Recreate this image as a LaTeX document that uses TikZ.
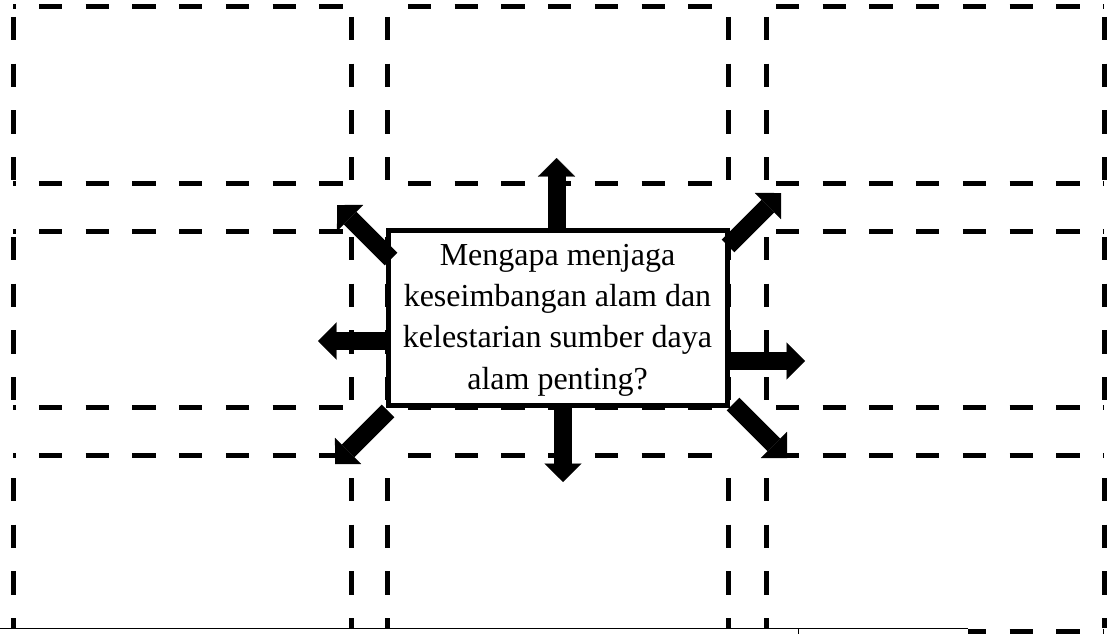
\documentclass[tikz,border=0pt]{standalone}
\usepackage{fontspec}
\setmainfont{Liberation Serif}
\usetikzlibrary{arrows.meta}
\tikzset{
  gridline/.style={line width=5pt, dash pattern=on 23.3pt off 23.4pt},
  qbox/.style={draw, line width=5pt, fill=white, minimum width=339pt, minimum height=175pt,
    inner sep=0pt},
  qtext/.style={inner sep=0pt, align=center, font=\fontsize{32}{41.3}\selectfont},
  blockarrow/.style={line width=18pt, -{Triangle[width=37pt,length=18.5pt,line width=0.1pt]}},
  thinedge/.style={line width=1pt}
}
\begin{document}
\begin{tikzpicture}[x=1pt,y=-1pt]
\useasboundingbox (0,0) rectangle (1108,634);
% dashed grid: horizontal sides
\foreach \xa/\xb/\ph in {13/351/20.7, 387/728/25.7, 766/1104/36.7}{
  \foreach \y in {7,183,231,407,455}{
    \draw[gridline, dash phase=\ph pt] (\xa,\y) -- (\xb,\y);
  }
}
% dashed grid: vertical sides
\foreach \ya/\yb/\ph in {7/183/36.7, 231/407/40.7, 455/628/23.7}{
  \foreach \x in {13,351,387,728,766,1104}{
    \draw[gridline, dash phase=\ph pt] (\x,\ya) -- (\x,\yb);
  }
}
% bottom edge
\draw[gridline, dash phase=5.2pt] (968,631) -- (1104,631);
\draw[thinedge] (0,628.5) -- (968,628.5);
\draw[thinedge] (798,628.5) -- (798,634);
% central question
\node[qbox] (q) at (557.5,318) {};
\node[qtext] (qt) at (557.5,320) {Mengapa menjaga\\keseimbangan alam dan\\kelestarian sumber daya\\alam penting?};
% arrow ends
\coordinate (tU) at (556.5,233);  \coordinate (hU) at (556.5,158);
\coordinate (tD) at (563,404);    \coordinate (hD) at (563,482);
\coordinate (tL) at (390,341);    \coordinate (hL) at (318,341);
\coordinate (tR) at (726,361);    \coordinate (hR) at (805,361);
\coordinate (tUL) at (391,259);   \coordinate (hUL) at (337,205);
\coordinate (tUR) at (728,246);   \coordinate (hUR) at (781,193);
\coordinate (tDL) at (388,411);   \coordinate (hDL) at (335,464);
\coordinate (tDR) at (733,404);   \coordinate (hDR) at (787,458);
\foreach \d in {U,D,L,R,UL,UR,DL,DR}{
  \draw[blockarrow] (t\d) -- (h\d);
}
\end{tikzpicture}
\end{document}
